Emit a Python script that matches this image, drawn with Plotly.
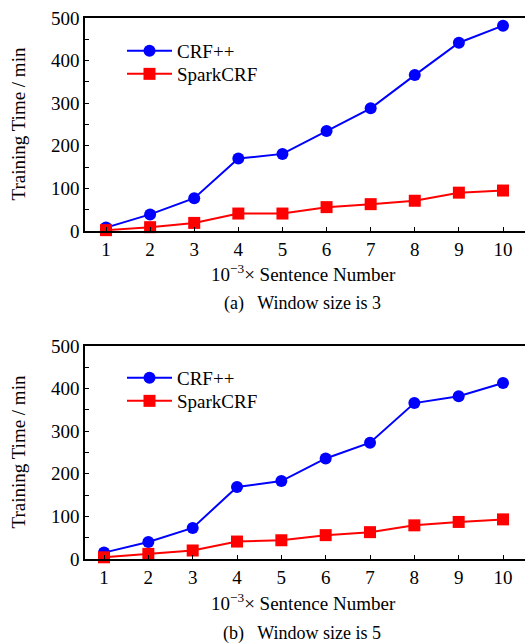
import plotly.graph_objects as go

x_vals = [1, 2, 3, 4, 5, 6, 7, 8, 9, 10]
crf_w3 = [8, 39, 77, 170, 181, 235, 288, 366, 442, 482]
spark_w3 = [2, 9, 19, 41, 41, 56, 63, 71, 90, 95]
crf_w5 = [15, 40, 73, 169, 183, 236, 273, 366, 382, 413]
spark_w5 = [4, 12, 20, 41, 44, 56, 63, 79, 87, 93]
y_tick_vals = [0, 100, 200, 300, 400, 500]
x_title = "10<sup>−3</sup>× Sentence Number"
y_title = "Training Time / min"
captions = ["(a)   Window size is 3", "(b)   Window size is 5"]
names = ["CRF++", "SparkCRF"]

W, H = 545, 643  # plot area runs past the 525px window edge, as in the reference
FONT = "Liberation Serif, Times New Roman, serif"
BLUE = "#0000FF"
RED = "#FF0000"

def py(p):
    return 1 - p / H

def px_(x):
    return x / W

fig = go.Figure()

panels = [
    dict(crf=crf_w3, spark=spark_w3, top=18, bottom=231, xr=[0.524, 10.952],
         xa="x", ya="y", xt=273, cap=304, legs=(51, 74)),
    dict(crf=crf_w5, spark=spark_w5, top=346, bottom=559, xr=[0.571, 10.947],
         xa="x2", ya="y2", xt=602, cap=633, legs=(378, 401)),
]

leg_names = []
for i, p in enumerate(panels):
    l1 = "legend" if i == 0 else "legend3"
    l2 = "legend2" if i == 0 else "legend4"
    leg_names.append((l1, p["legs"][0]))
    leg_names.append((l2, p["legs"][1]))
    fig.add_trace(go.Scatter(
        x=x_vals, y=p["crf"], name=names[0], mode="lines+markers",
        line=dict(color=BLUE, width=2),
        marker=dict(symbol="circle", size=12, color=BLUE),
        xaxis=p["xa"], yaxis=p["ya"], legend=l1, cliponaxis=False))
    fig.add_trace(go.Scatter(
        x=x_vals, y=p["spark"], name=names[1], mode="lines+markers",
        line=dict(color=RED, width=2),
        marker=dict(symbol="square", size=12, color=RED),
        xaxis=p["xa"], yaxis=p["ya"], legend=l2, cliponaxis=False))

axis_common = dict(
    showgrid=False, zeroline=False, showline=True, linecolor="black",
    linewidth=1.5, ticks="inside", ticklen=4, tickcolor="black", tickwidth=1,
    tickfont=dict(family=FONT, size=19, color="black"), automargin=False,
    ticklabeloverflow="allow",
)

layout = dict(
    width=W, height=H, margin=dict(l=0, r=0, t=0, b=0, autoexpand=False),
    plot_bgcolor="white", paper_bgcolor="white", showlegend=True,
    font=dict(family=FONT, size=19, color="black"),
)

for i, p in enumerate(panels):
    sx = "" if i == 0 else "2"
    layout["xaxis" + sx] = dict(
        axis_common, domain=[px_(85), 1], range=p["xr"],
        tickvals=x_vals, mirror=True,
        anchor="y" + sx)
    layout["yaxis" + sx] = dict(
        axis_common, domain=[py(p["bottom"]), py(p["top"])], range=[0, 500],
        tickvals=y_tick_vals,
        minor=dict(tickvals=[50, 150, 250, 350, 450], ticks="inside",
                   ticklen=4, tickcolor="black", tickwidth=1),
        anchor="x" + sx)

for lname, ly in leg_names:
    layout[lname] = dict(
        x=px_(122), y=py(ly), xanchor="left", yanchor="middle",
        bgcolor="rgba(0,0,0,0)", font=dict(family=FONT, size=19),
        tracegroupgap=0, itemwidth=45)

fig.update_layout(**layout)

for i, p in enumerate(panels):
    cy = (p["top"] + p["bottom"]) / 2
    fig.add_annotation(text=y_title, x=px_(18), y=py(cy), xref="paper", yref="paper",
                       textangle=-90, showarrow=False, xanchor="center", yanchor="middle",
                       font=dict(family=FONT, size=19))
    fig.add_annotation(text=x_title, x=px_(303), y=py(p["xt"]), xref="paper", yref="paper",
                       showarrow=False, xanchor="center", yanchor="middle",
                       font=dict(family=FONT, size=19))
    fig.add_annotation(text=captions[i], x=px_(302), y=py(p["cap"]), xref="paper", yref="paper",
                       showarrow=False, xanchor="center", yanchor="middle",
                       font=dict(family=FONT, size=18))

fig.write_html(
    "out.html",
    config={"displayModeBar": False},
    post_script="document.body.style.margin='0';document.body.style.overflow='hidden';",
)
